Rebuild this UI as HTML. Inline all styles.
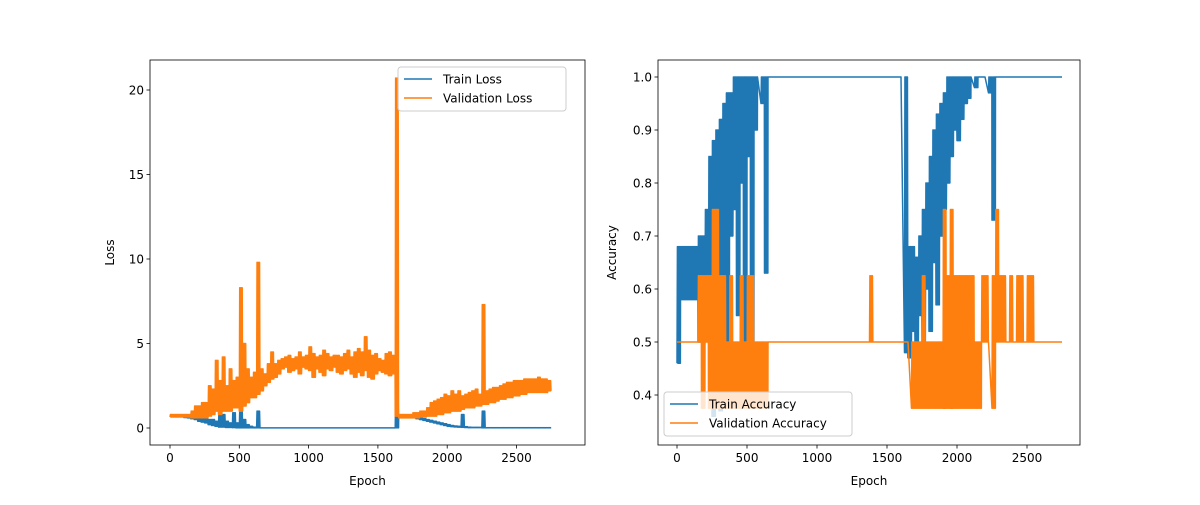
<!DOCTYPE html>
<html><head><meta charset="utf-8"><style>
body{margin:0;background:#fff}
svg{font-family:"DejaVu Sans","Liberation Sans",sans-serif}
</style></head><body>
<svg id="c" width="1200" height="500" xmlns="http://www.w3.org/2000/svg"></svg>
<script>
// each series: per 25-epoch bin, min (lo) and max (hi) value observed
const binStep = 25;
const trainLossLo = [0.68,0.68,0.68,0.68,0.62,0.6,0.55,0.5,0.4,0.35,
0.3,0.2,0.15,0.1,0.05,0.05,0.03,0.03,0.02,0.01,
0.01,0.01,0.01,0.01,0.01,0.01,0.01,0.01,0.01,0.01,
0.01,0.01,0.01,0.01,0.01,0.01,0.01,0.01,0.01,0.01,
0.01,0.01,0.01,0.01,0.01,0.01,0.01,0.01,0.01,0.01,
0.01,0.01,0.01,0.01,0.01,0.01,0.01,0.01,0.01,0.01,
0.01,0.01,0.01,0.01,0.01,
0.01,0.65,0.64,0.63,0.62,
0.6,0.55,0.5,0.45,0.4,0.35,0.3,0.25,0.2,0.15,
0.1,0.08,0.06,0.05,0.04,0.03,0.02,0.02,0.02,0.02,
0.01,0.01,0.01,0.01,0.01,0.01,0.01,0.01,0.01,0.01,
0.01,0.01,0.01,0.01,0.01,0.01,0.01,0.01,0.01,0.01,0.01];
const trainLossHi = [0.72,0.72,0.72,0.72,0.7,0.7,0.68,0.66,0.65,0.6,
0.6,0.5,0.5,0.4,1.0,0.8,0.4,0.3,0.9,0.3,
1.0,0.5,0.2,0.1,0.05,1.0,0.01,0.01,0.01,0.01,
0.01,0.01,0.01,0.01,0.01,0.01,0.01,0.01,0.01,0.01,
0.01,0.01,0.01,0.01,0.01,0.01,0.01,0.01,0.01,0.01,
0.01,0.01,0.01,0.01,0.01,0.01,0.01,0.01,0.01,0.01,
0.01,0.01,0.01,0.01,0.01,
2.0,0.72,0.7,0.7,0.68,
0.66,0.64,0.6,0.55,0.5,0.45,0.4,0.35,0.3,0.25,
0.2,0.15,0.12,0.1,0.8,0.08,0.05,0.04,0.04,0.04,
1.0,0.02,0.02,0.02,0.02,0.02,0.02,0.02,0.02,0.02,
0.02,0.02,0.02,0.02,0.02,0.02,0.02,0.02,0.02,0.02,0.02];
const valLossLo = [0.65,0.65,0.65,0.65,0.65,0.65,0.6,0.6,0.6,0.6,
0.6,0.7,0.8,1.0,0.8,1.0,1.0,1.0,1.2,1.2,
1.0,1.3,1.5,1.8,1.8,2.0,2.2,2.5,2.7,2.9,
3.0,3.2,3.5,3.6,3.3,3.4,3.5,3.2,3.6,3.5,
3.4,3.0,3.5,3.3,3.1,3.5,3.4,3.6,3.3,3.2,
3.4,3.5,3.2,3.0,3.3,3.1,3.4,3.0,2.9,3.2,
3.4,3.3,3.2,3.1,3.2,
0.7,0.6,0.6,0.6,0.6,
0.6,0.6,0.65,0.65,0.7,0.7,0.7,0.8,0.8,0.9,
0.9,1.0,1.0,1.0,1.1,1.2,1.2,1.2,1.3,1.3,
1.4,1.4,1.5,1.5,1.6,1.7,1.7,1.8,1.8,1.9,
1.9,2.0,2.0,2.1,2.1,2.1,2.1,2.1,2.1,2.2,2.2];
const valLossHi = [0.8,0.8,0.8,0.8,0.8,0.8,1.0,1.3,1.3,1.5,
1.5,2.5,2.3,4.0,2.8,4.2,2.5,3.5,2.8,3.0,
8.3,5.0,3.5,3.0,3.3,9.8,3.5,3.2,3.8,4.5,
3.8,4.0,4.1,4.2,4.3,4.1,4.2,4.5,4.2,4.3,
4.8,4.4,4.2,4.3,4.6,4.4,4.2,4.3,4.3,4.2,
4.4,4.6,4.2,4.5,4.7,4.5,5.4,4.6,4.3,4.4,
4.1,4.0,4.4,4.5,4.3,
20.7,0.8,0.8,0.8,0.8,
0.9,0.9,1.0,1.0,1.2,1.5,1.6,1.7,1.8,2.0,
1.9,2.2,2.0,2.2,1.9,2.0,2.1,2.2,2.3,2.0,
7.3,2.2,2.3,2.4,2.4,2.5,2.6,2.7,2.7,2.8,
2.8,2.8,2.9,2.9,2.9,2.9,3.0,2.9,2.9,2.8,2.6];
const trainAccLo = [0.46,0.58,0.58,0.58,0.58,0.58,0.5,0.5,0.58,0.55,
0.36,0.6,0.37,0.62,0.4,0.7,0.75,0.55,0.8,0.4,
0.85,0.38,0.9,1,0.95,0.63,1,1,1,1,
1,1,1,1,1,1,1,1,1,1,1,1,1,1,1,1,1,1,1,1,1,1,1,1,1,1,1,1,1,1,1,1,1,1,1,
0.48,0.47,0.52,0.5,0.55,
0.5,0.6,0.52,0.65,0.57,0.7,0.75,0.8,0.85,0.9,
0.88,0.92,0.95,0.96,1,0.98,1,1,1,0.97,
0.73,1,1,1,1,1,1,1,1,1,
1,1,1,1,1,1,1,1,1,1,1];
const trainAccHi = [0.68,0.68,0.68,0.68,0.68,0.68,0.7,0.7,0.75,0.85,
0.88,0.9,0.92,0.95,0.97,0.97,1,1,1,1,
1,1,1,1,1,1,1,1,1,1,
1,1,1,1,1,1,1,1,1,1,1,1,1,1,1,1,1,1,1,1,1,1,1,1,1,1,1,1,1,1,1,1,1,1,1,
1,0.68,0.68,0.66,0.7,
0.75,0.8,0.85,0.9,0.93,0.95,0.97,1,1,1,
1,1,1,1,1,1,1,1,1,1,
1,1,1,1,1,1,1,1,1,1,
1,1,1,1,1,1,1,1,1,1,1];
const valAccLo = [0.5,0.5,0.5,0.5,0.5,0.5,0.5,0.375,0.5,0.375,
0.375,0.375,0.375,0.375,0.375,0.375,0.375,0.375,0.375,0.375,
0.375,0.375,0.375,0.375,0.375,0.375,0.5,0.5,0.5,0.5,
0.5,0.5,0.5,0.5,0.5,0.5,0.5,0.5,0.5,0.5,
0.5,0.5,0.5,0.5,0.5,0.5,0.5,0.5,0.5,0.5,
0.5,0.5,0.5,0.5,0.5,0.5,0.5,0.5,0.5,0.5,
0.5,0.5,0.5,0.5,0.5,0.5,0.5,
0.375,0.375,0.375,0.375,0.375,0.375,0.375,0.375,0.375,0.375,
0.375,0.375,0.375,0.375,0.375,0.375,0.375,0.375,0.375,0.375,
0.5,0.5,0.5,0.375,0.5,0.5,0.5,0.5,0.5,0.5,
0.5,0.5,0.5,0.5,0.5,0.5,0.5,0.5,0.5,0.5,0.5,0.5,0.5,0.5];
const valAccHi = [0.5,0.5,0.5,0.5,0.5,0.5,0.625,0.625,0.625,0.625,
0.75,0.75,0.625,0.625,0.5,0.625,0.5,0.5,0.625,0.5,
0.625,0.625,0.5,0.5,0.5,0.5,0.5,0.5,0.5,0.5,
0.5,0.5,0.5,0.5,0.5,0.5,0.5,0.5,0.5,0.5,
0.5,0.5,0.5,0.5,0.5,0.5,0.5,0.5,0.5,0.5,
0.5,0.5,0.5,0.5,0.5,0.625,0.5,0.5,0.5,0.5,
0.5,0.5,0.5,0.5,0.5,0.5,0.5,
0.5,0.5,0.5,0.625,0.5,0.5,0.5,0.5,0.5,0.75,
0.625,0.75,0.625,0.625,0.625,0.625,0.625,0.625,0.5,0.5,
0.625,0.625,0.5,0.625,0.75,0.625,0.625,0.5,0.625,0.5,
0.625,0.625,0.5,0.625,0.625,0.5,0.5,0.5,0.5,0.5,0.5,0.5,0.5,0.5];
const xTicks = [0,500,1000,1500,2000,2500];
const lossTicks = [0,5,10,15,20];
const accTicks = [0.4,0.5,0.6,0.7,0.8,0.9,1.0];

const svg = document.getElementById('c');
const NS = 'http://www.w3.org/2000/svg';
function mk(tag, attrs, text){
  const e = document.createElementNS(NS, tag);
  for (const k in attrs) e.setAttribute(k, attrs[k]);
  if (text !== undefined) e.textContent = text;
  svg.appendChild(e);
  return e;
}
const C1 = '#1f77b4', C2 = '#ff7f0e';
const lx = e => 170 + e * 69.3 / 500;
const ly = v => 428 - v * 16.9;
const rx = e => 677 + e * 70 / 500;
const ry = v => 77 + (1.0 - v) * 530;

function series(lo, hi, fx, fy, color, name){
  let d = '';
  const last = lo.length - 1;
  lo.forEach((l, i) => {
    const e = i * binStep;
    const h = hi[i];
    const span = i === last ? 1 : binStep;
    let pts;
    if (l === h) pts = [[e, l]];
    else {
      pts = [];
      for (let k = 0; k * 3 < span; k++) pts.push([e + k * 3, k % 2 ? h : l]);
    }
    pts.forEach(p => { d += (d ? 'L' : 'M') + fx(p[0]).toFixed(2) + ',' + fy(p[1]).toFixed(2); });
  });
  const p = mk('path', {d: d, fill: 'none', stroke: color, 'stroke-width': 1.5, 'stroke-linejoin': 'round'});
  
  
}
function axes(x0, x1, y0, y1, fx, fy, yt, fmt, ylabel, ylx, prefix){
  const f = mk('rect', {x: x0, y: y0, width: x1 - x0, height: y1 - y0, fill: 'none', stroke: '#000', 'stroke-width': 0.8});
  
  
  xTicks.forEach(t => {
    const x = fx(t);
    mk('line', {x1: x, x2: x, y1: y1, y2: y1 + 3.5, stroke: '#000', 'stroke-width': 0.8});
    const l = mk('text', {x: x, y: y1 + 17, 'font-size': 12, 'text-anchor': 'middle'}, String(t));
    
    
  });
  yt.forEach(t => {
    const y = fy(t);
    mk('line', {x1: x0 - 3.5, x2: x0, y1: y, y2: y, stroke: '#000', 'stroke-width': 0.8});
    const l = mk('text', {x: x0 - 6, y: y + 4.5, 'font-size': 12, 'text-anchor': 'end'}, fmt(t));
    
    
  });
  const xl = mk('text', {x: (x0 + x1) / 2, y: 485, 'font-size': 12, 'text-anchor': 'middle'}, 'Epoch');
  
  
  const yl = mk('text', {x: ylx, y: (y0 + y1) / 2, 'font-size': 12, 'text-anchor': 'middle', transform: 'rotate(-90 ' + ylx + ' ' + (y0 + y1) / 2 + ')'}, ylabel);
  
  
}
function legend(x, y, w, items, prefix){
  const r = mk('rect', {x: x, y: y, width: w, height: 44, rx: 3, fill: '#fff', 'fill-opacity': 0.8, stroke: '#ccc', 'stroke-width': 1});
  
  
  items.forEach((it, i) => {
    const yy = y + 12 + i * 19;
    mk('line', {x1: x + 6, x2: x + 34, y1: yy, y2: yy, stroke: it[1], 'stroke-width': 1.5});
    const t = mk('text', {x: x + 45, y: yy + 4.5, 'font-size': 12}, it[0]);
    
    
  });
}
axes(150, 585, 60, 445, lx, ly, lossTicks, t => String(t), 'Loss', 114, 'loss');
series(trainLossLo, trainLossHi, lx, ly, C1, 'train-loss-line');
series(valLossLo, valLossHi, lx, ly, C2, 'validation-loss-line');
legend(398, 67, 168, [['Train Loss', C1], ['Validation Loss', C2]], 'loss');

axes(658, 1080, 60, 445, rx, ry, accTicks, t => t.toFixed(1), 'Accuracy', 616, 'acc');
series(trainAccLo, trainAccHi, rx, ry, C1, 'train-accuracy-line');
series(valAccLo, valAccHi, rx, ry, C2, 'validation-accuracy-line');
legend(664, 392, 188, [['Train Accuracy', C1], ['Validation Accuracy', C2]], 'acc');
</script>
</body></html>
